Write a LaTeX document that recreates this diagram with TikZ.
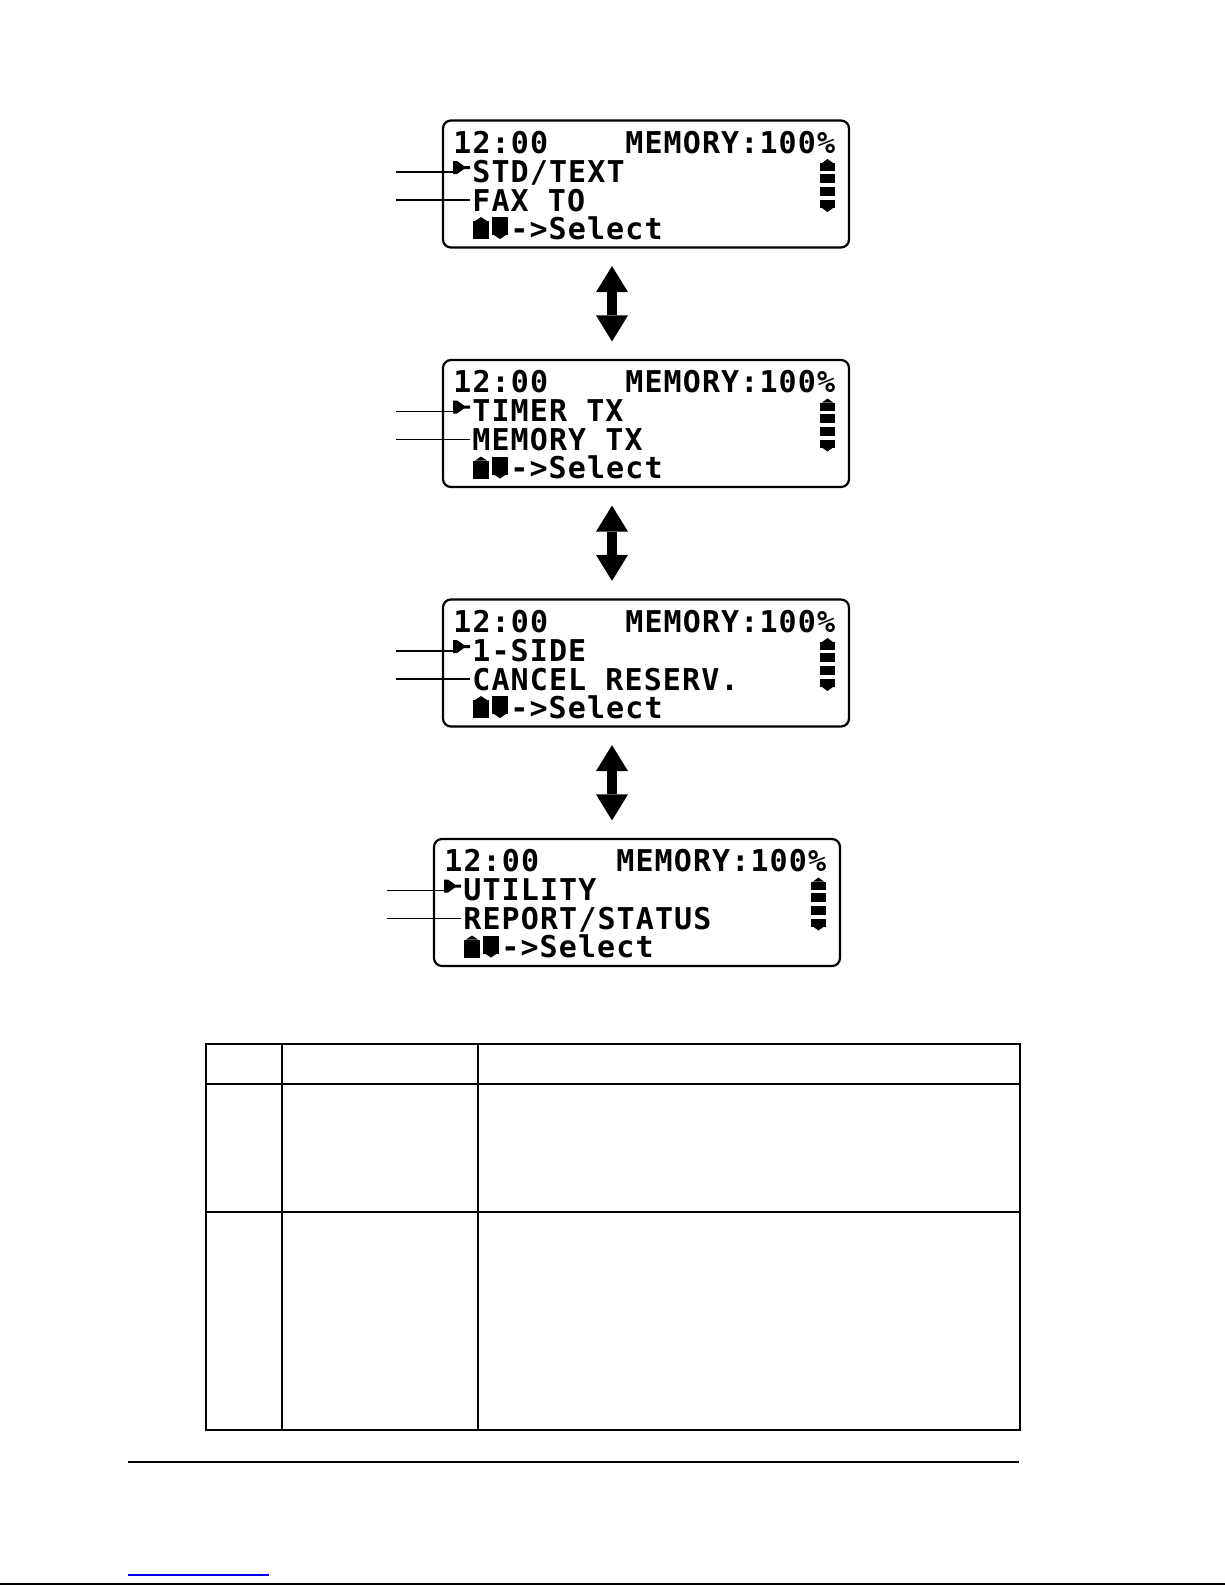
\documentclass[tikz,border=0pt]{standalone}
\usepackage{fontspec}
\usetikzlibrary{arrows.meta}
\newfontfamily\lcdfont[LetterSpace=3.7]{DejaVu Sans Mono}

% key glyphs of the display (x, y, width, height in px)
\newcommand{\upkey}[4]{%
  \fill (#1,#2) rectangle ++(#3,#4);
  \fill[white] (#1,#2) rectangle ++(#3,4);
  \fill (#1+2,#2+4) -- (#1+#3/2,#2) -- (#1+#3-2,#2+4) -- cycle;}
\newcommand{\downkey}[4]{%
  \fill (#1,#2) rectangle ++(#3,#4);
  \fill[white] (#1,#2+#4-4) rectangle ++(#3,4);
  \fill (#1+2,#2+#4-4) -- (#1+#3/2,#2+#4) -- (#1+#3-2,#2+#4-4) -- cycle;}

\tikzset{
  lcd/.style={draw, line width=1.1pt, rounded corners=4pt,
    minimum width=203pt, minimum height=63.5pt, inner sep=0pt},
  lcdtext/.style={font=\lcdfont\bfseries\fontsize{15pt}{15pt}\selectfont,
    inner sep=0pt, text height=11pt, text depth=0pt, anchor=base west},
  leader/.style={line width=0.8pt},
  updown/.style={line width=5pt,
    {Triangle[width=16pt,length=13pt,line width=0pt]}-{Triangle[width=16pt,length=13pt,line width=0pt]},
    shorten <=8.75pt, shorten >=8.75pt},
  grid/.style={line width=0.75pt}
}

\begin{document}
\begin{tikzpicture}[x=0.5pt,y=-0.5pt]
  \useasboundingbox (0,0) rectangle (1225,1585);

  % the four screens
  \foreach \i/\bx/\by/\a/\b in {1/442/120/{STD/TEXT}/{FAX TO},
                                2/442/359.5/{TIMER TX}/{MEMORY TX},
                                3/442/599/{1-SIDE}/{CANCEL RESERV.},
                                4/433/838.5/{UTILITY}/{REPORT/STATUS}}{
    \node[lcd] (lcd\i) at (\bx+204,\by+64) {};
    \node[lcdtext] (clk\i) at (\bx+11,\by+33) {12:00};
    \node[lcdtext] (mem\i) at (\bx+183,\by+33) {MEMORY:100\%};
    \fill (\bx+11,\by+41) -- (\bx+15,\by+41) -- (\bx+22,\by+46) -- (\bx+28,\by+46)
      -- (\bx+28,\by+49) -- (\bx+22,\by+49) -- (\bx+15,\by+54) -- (\bx+11,\by+54) -- cycle;
    \node[lcdtext] (sel\i) at (\bx+30,\by+62) {\a};
    \node[lcdtext] (nxt\i) at (\bx+30,\by+91) {\b};
    \upkey{\bx+31}{\by+97}{16}{22}
    \downkey{\bx+50}{\by+97}{16}{22}
    \node[lcdtext] (cmd\i) at (\bx+68,\by+119) {->Select};
    % scroll bar
    \upkey{\bx+378}{\by+39}{15}{12}
    \fill (\bx+378,\by+54) rectangle ++(15,9);
    \fill (\bx+378,\by+67) rectangle ++(15,9);
    \downkey{\bx+378}{\by+80}{15}{12}
    % leader lines
    \coordinate (ina\i) at (\bx+11,\by+52);
    \coordinate (outa\i) at (\bx-46,\by+52);
    \coordinate (inb\i) at (\bx+28,\by+80);
    \coordinate (outb\i) at (\bx-46,\by+80);
    \draw[leader] (outa\i) -- (ina\i);
    \draw[leader] (outb\i) -- (inb\i);
  }

  % scrolling arrows
  \draw[updown] ([xshift=-17pt]lcd1.south) -- ([xshift=-17pt]lcd1.south |- lcd2.north);
  \draw[updown] ([xshift=-17pt]lcd2.south) -- ([xshift=-17pt]lcd2.south |- lcd3.north);
  \draw[updown] ([xshift=-17pt]lcd3.south) -- ([xshift=-17pt]lcd3.south |- lcd4.north);

  % table
  \draw[grid] (206,1044) rectangle (1020,1430);
  \draw[grid] (206,1084) -- (1020,1084);
  \draw[grid] (206,1212) -- (1020,1212);
  \draw[grid] (282,1044) -- (282,1430);
  \draw[grid] (478,1044) -- (478,1430);

  % page foot
  \draw[line width=0.75pt] (128,1462) -- (1019,1462);
  \draw[blue, line width=0.75pt] (128,1575) -- (269,1575);
  \draw[line width=1pt] (0,1584) -- (1225,1584);
\end{tikzpicture}
\end{document}
